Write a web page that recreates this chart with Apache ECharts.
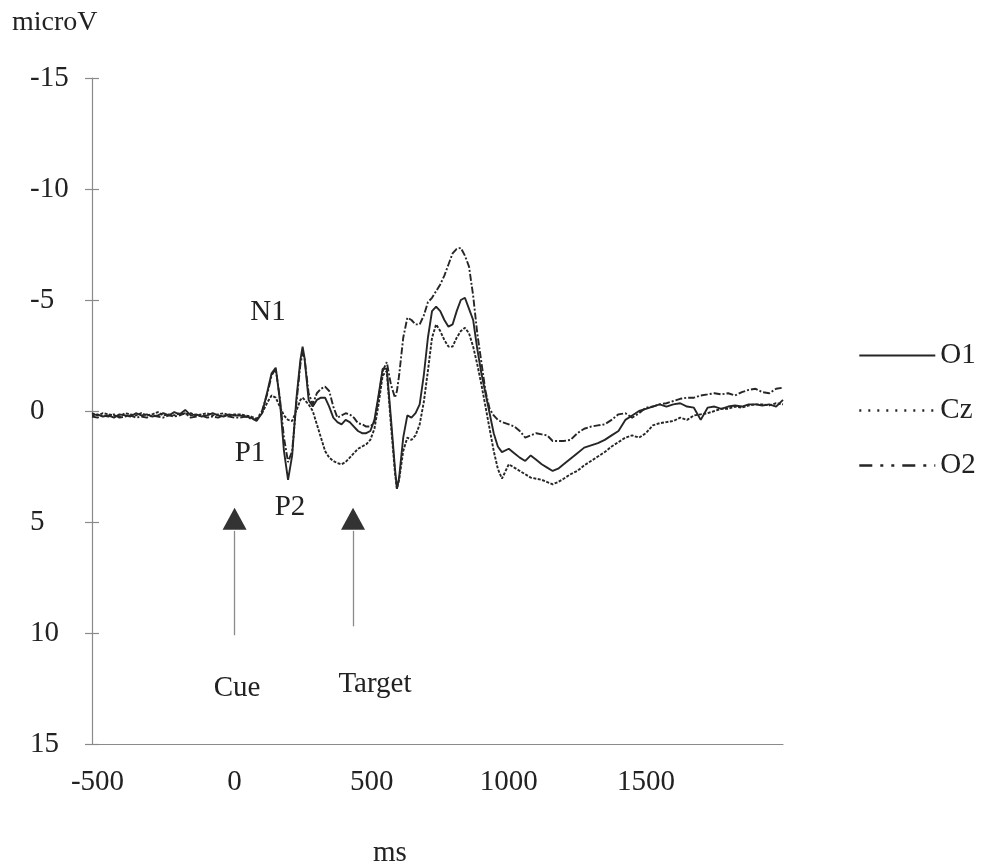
<!DOCTYPE html>
<html><head><meta charset="utf-8">
<script src="https://cdn.jsdelivr.net/npm/echarts@6/dist/echarts.min.js"></script>
<style>html,body{margin:0;padding:0;background:#fff}#c{width:984px;height:867px}</style>
</head><body><div id="c"></div>
<script>
// time points (ms)
const times = [
 -520,-500,-480,-460,-440,-420,-400,-380,-360,-340,-320,-300,-280,-260,-240,-220,-200,-180,-160,-140,-120,-100,-80,-60,-40,-20,0,
 20,40,60,80,100,120,
 135,150,165,180,195,210,225,240,248,255,270,
 285,300,315,330,345,360,375,390,405,420,
 435,450,465,480,495,510,525,540,555,570,
 585,592,600,615,630,645,660,675,690,705,720,
 735,750,765,780,795,810,825,840,855,870,
 885,900,915,930,945,960,975,
 1000,1020,1040,1060,1080,1100,1120,1140,1160,1180,1200,
 1225,1250,1275,1300,1325,1350,1375,1400,1425,1450,1475,1500,1525,1550,1575,1600,
 1625,1650,1675,1700,1725,1750,1775,1800,1825,1850,1875,1900,1925,1950,1975,2000
];
// microvolts (negative up)
const o1 = [
 0.2,0.15,0.25,0.2,0.3,0.15,0.2,0.25,0.1,0.2,0.15,0.25,0.2,0.1,0.2,0.05,0.15,-0.05,0.2,0.15,0.25,0.2,0.1,0.2,0.25,0.15,0.2,
 0.2,0.25,0.3,0.45,0.1,-0.9,
 -1.7,-1.95,-0.5,1.8,3.1,2.0,-0.5,-2.3,-2.9,-2.4,-0.5,
 -0.2,-0.5,-0.6,-0.6,-0.2,0.3,0.5,0.6,0.4,0.5,
 0.7,0.9,1.0,1.0,0.9,0.4,-0.7,-1.9,-1.9,0.3,
 2.6,3.5,3.0,1.2,0.2,0.3,0.1,-0.3,-1.6,-3.3,-4.5,
 -4.7,-4.5,-4.1,-3.8,-3.9,-4.5,-5.0,-5.1,-4.6,-4.1,
 -2.8,-1.7,-0.8,0.1,1.0,1.6,1.85,
 1.7,1.9,2.1,2.25,2.0,2.2,2.4,2.55,2.7,2.6,2.4,
 2.15,1.9,1.65,1.55,1.45,1.3,1.1,0.9,0.4,0.2,0.0,-0.1,-0.2,-0.3,-0.2,-0.3,
 -0.35,-0.2,-0.15,0.4,-0.15,-0.2,-0.1,-0.2,-0.25,-0.2,-0.3,-0.3,-0.25,-0.3,-0.2,-0.5
];
const cz = [
 0.1,0.2,0.1,0.15,0.2,0.25,0.1,0.15,0.2,0.1,0.2,0.15,0.05,0.2,0.15,0.2,0.1,0.15,0.1,0.2,0.15,0.1,0.2,0.15,0.1,0.2,0.15,
 0.15,0.2,0.25,0.35,0.1,-0.4,
 -0.7,-0.6,-0.2,0.2,0.4,0.45,0.0,-0.5,-0.6,-0.55,-0.3,
 0.0,0.6,1.2,1.8,2.1,2.25,2.35,2.4,2.3,2.1,
 1.9,1.7,1.6,1.5,1.3,0.8,-0.3,-1.6,-1.8,0.6,
 2.8,3.5,3.1,1.8,1.2,1.3,1.1,0.6,-0.4,-1.8,-3.3,
 -3.9,-3.6,-3.2,-2.9,-2.9,-3.3,-3.6,-3.75,-3.5,-2.9,
 -2.1,-1.2,-0.2,0.8,1.8,2.6,3.05,
 2.4,2.55,2.7,2.85,3.0,3.05,3.1,3.2,3.3,3.2,3.05,
 2.85,2.7,2.45,2.25,2.05,1.85,1.6,1.4,1.2,1.1,1.2,1.0,0.65,0.55,0.5,0.45,
 0.3,0.4,0.2,0.15,0.1,0.0,-0.1,-0.1,-0.2,-0.15,-0.25,-0.3,-0.3,-0.25,-0.35,-0.3
];
const o2 = [
 0.25,0.3,0.2,0.25,0.15,0.3,0.25,0.2,0.3,0.25,0.3,0.2,0.25,0.3,0.2,0.25,0.2,0.1,0.3,0.25,0.2,0.3,0.25,0.3,0.2,0.25,0.3,
 0.3,0.25,0.35,0.4,0.0,-0.8,
 -1.6,-1.9,-0.6,1.2,2.3,1.8,-0.3,-2.1,-2.6,-2.4,-0.8,
 -0.3,-0.8,-1.0,-1.1,-0.9,-0.2,0.3,0.2,0.1,0.15,
 0.3,0.55,0.6,0.7,0.7,0.5,-0.6,-1.8,-2.2,-1.2,
 -0.6,-0.9,-1.6,-3.3,-4.2,-4.1,-3.9,-3.9,-4.3,-4.9,-5.1,
 -5.4,-5.7,-6.1,-6.6,-7.1,-7.3,-7.35,-7.0,-6.5,-5.2,
 -3.5,-2.2,-0.9,-0.1,0.2,0.4,0.5,
 0.6,0.7,0.9,1.2,1.1,1.0,1.05,1.1,1.35,1.35,1.35,
 1.3,1.0,0.8,0.7,0.65,0.6,0.4,0.15,0.1,0.3,0.1,-0.15,-0.2,-0.3,-0.35,-0.45,
 -0.55,-0.6,-0.6,-0.7,-0.75,-0.8,-0.75,-0.8,-0.7,-0.85,-0.95,-1.0,-0.85,-0.8,-1.0,-1.05
];
const seriesNames = ['O1','Cz','O2'];
const xTickLabels = [-500,0,500,1000,1500];
// annotation texts and their anchors (ms, microV)
const annoTexts = ['N1','P1','P2','Cue','Target'];
const annoAt = [[122,-4.45],[56,1.9],[202,4.35],[9,12.5],[512,12.3]];
// stimulus onsets (ms)
const onsetTimes = [0,432];

const FONT = 'Liberation Serif';
const FS = 29;
const INK = '#222';
const AXC = '#8a8a8a';
const pair = arr => times.map((t,i)=>[t,arr[i]]);

const chart = echarts.init(document.getElementById('c'), null, {renderer:'canvas'});
chart.setOption({
  animation:false,
  backgroundColor:'#fff',
  grid:{left:92, right:201, top:78, bottom:123, containLabel:false},
  xAxis:{
    type:'value', min:-520, max:2000,
    axisLine:{show:true, onZero:false, lineStyle:{color:AXC, width:1.2}},
    axisTick:{show:false},
    splitLine:{show:false},
    axisLabel:{customValues:xTickLabels, formatter:v=>String(v), fontFamily:FONT, fontSize:FS, color:INK, margin:24}
  },
  yAxis:[{
    type:'value', inverse:true, min:-15, max:15, interval:5,
    axisLine:{show:true, onZero:false, lineStyle:{color:AXC, width:1.2}},
    axisTick:{show:true, length:7, lineStyle:{color:AXC, width:1.2}},
    splitLine:{show:false},
    axisLabel:{fontFamily:FONT, fontSize:FS, color:INK, margin:62, align:'left'}
  },{
    type:'value', inverse:true, min:-15, max:15, interval:5, position:'left',
    axisLine:{show:false, onZero:false},
    axisTick:{show:true, inside:true, length:7, lineStyle:{color:AXC, width:1.2}},
    axisLabel:{show:false}, splitLine:{show:false}
  }],
  legend:{
    orient:'vertical', left:853, top:336, itemWidth:76, itemHeight:14, itemGap:26,
    textStyle:{fontFamily:FONT, fontSize:FS, color:INK},
    itemStyle:{opacity:0},
    data:[
      {name:'O1', itemStyle:{opacity:0}, lineStyle:{type:'solid', width:2}},
      {name:'Cz', itemStyle:{opacity:0}, lineStyle:{type:[2,7], width:2.6}},
      {name:'O2', itemStyle:{opacity:0}, lineStyle:{type:[13,8,3,8,3,8], width:2.3}}
    ]
  },
  graphic:[
    {type:'text', left:12, top:9, style:{text:'microV', font:'28px "Liberation Serif"', fill:INK}},
    {type:'text', left:373, top:839, style:{text:'ms', font:FS+'px "Liberation Serif"', fill:INK}}
  ],
  series:[
    {name:seriesNames[0], type:'line', data:pair(o1), symbol:'none', smooth:false,
     lineStyle:{color:'#262626', width:1.9, type:'solid'}, itemStyle:{color:'#262626'},
     markPoint:{
       silent:true, animation:false,
       data: annoTexts.map((t,i)=>({name:t, coord:annoAt[i], symbol:'circle', symbolSize:0.1,
         label:{show:true, formatter:t, position:'inside', fontFamily:FONT, fontSize:FS, color:INK}}))
         .concat(onsetTimes.map(t=>({name:'on'+t, coord:[t,4.85], symbol:'triangle', symbolSize:[24,22],
         itemStyle:{color:'#333'}, label:{show:false}})))
     },
     markLine:{
       silent:true, animation:false, symbol:['none','none'],
       lineStyle:{color:AXC, width:1.3, type:'solid'}, label:{show:false},
       data: onsetTimes.map((t,i)=>[{coord:[t,5.4]},{coord:[t, i===0?10.1:9.7]}])
     }
    },
    {name:seriesNames[1], type:'line', data:pair(cz), symbol:'none',
     lineStyle:{color:'#262626', width:1.9, type:[3,1.5]}, itemStyle:{color:'#262626'}},
    {name:seriesNames[2], type:'line', data:pair(o2), symbol:'none',
     lineStyle:{color:'#262626', width:1.9, type:[7,2,2,2]}, itemStyle:{color:'#262626'}}
  ]
});
</script>
</body></html>
